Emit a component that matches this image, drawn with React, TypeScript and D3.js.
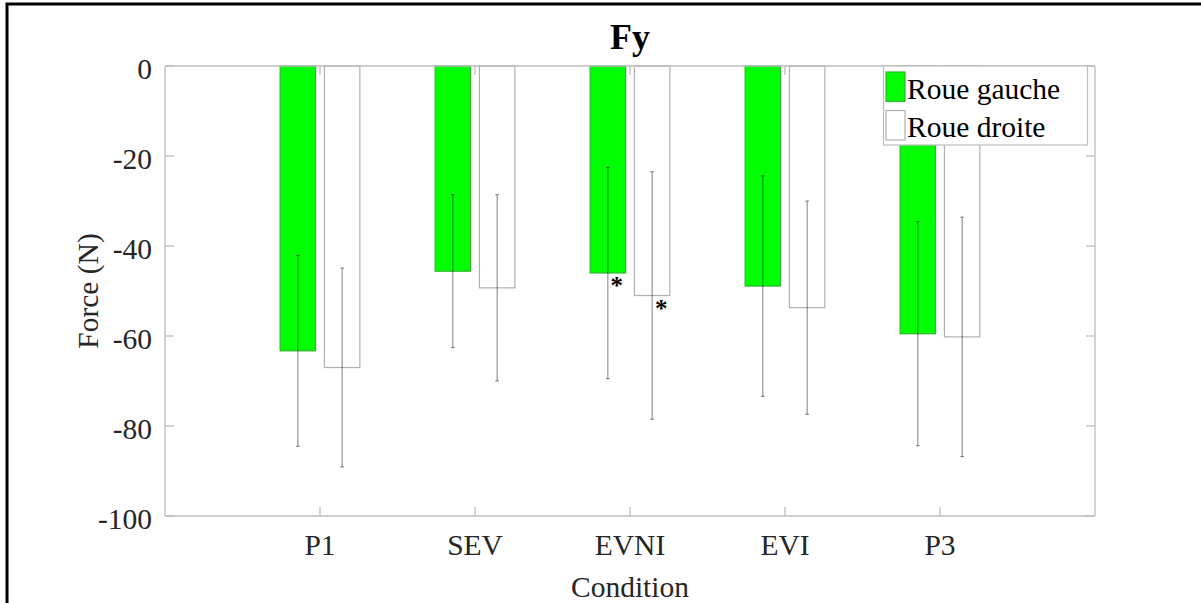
import React from "react";
import * as d3 from "d3";

const categories = ["P1", "SEV", "EVNI", "EVI", "P3"];
const seriesNames = ["Roue gauche", "Roue droite"];
const leftMeans = [-63.3, -45.6, -46.0, -48.9, -59.5];
const leftErr = [21.2, 17.0, 23.5, 24.5, 24.9];
const rightMeans = [-67.0, -49.3, -51.0, -53.7, -60.2];
const rightErr = [22.1, 20.7, 27.5, 23.7, 26.6];
const yTicks = [0, -20, -40, -60, -80, -100];
const significant = [
  { cat: "EVNI", series: 0 },
  { cat: "EVNI", series: 1 },
];

const W = 1201;
const H = 603;
const plot = { left: 165, right: 1095, top: 66, bottom: 516 };
const FONT = "'Liberation Serif', 'Times New Roman', serif";
const TXT = "#262626";
const AXIS = "#bdbdbd";
const FS = 29.5;

export default function App() {
  const x = d3.scaleLinear().domain([0, categories.length + 1]).range([plot.left, plot.right]);
  const y = d3.scaleLinear().domain([0, -100]).range([plot.top, plot.bottom]);
  const groupWidth = Math.min(0.8, 2 / (2 + 1.5));
  const barW = (0.8 * groupWidth) / 2;
  const offs = [-groupWidth / 4, groupWidth / 4];
  const means = [leftMeans, rightMeans];
  const errs = [leftErr, rightErr];
  const fills = ["#00ff00", "#ffffff"];
  const strokes = ["#2fb52f", "#b0b0b0"];
  const capHalf = 0.012;

  return (
    <svg width={W} height={H} style={{ position: "absolute", left: 0, top: 0, background: "#fff" }}>
      <rect x={7} y={4} width={1400} height={800} fill="#fff" stroke="#000" strokeWidth={3} />
      {/* bars */}
      {[0, 1].map((s) =>
        categories.map((c, i) => {
          const cx = i + 1 + offs[s];
          const x0 = x(cx - barW / 2);
          const x1 = x(cx + barW / 2);
          return (
            <rect
              key={`b${s}-${c}`}
              x={x0}
              y={y(0)}
              width={x1 - x0}
              height={y(means[s][i]) - y(0)}
              fill={fills[s]}
              stroke={strokes[s]}
              strokeWidth={1.2}
            />
          );
        })
      )}
      {/* error bars */}
      {[0, 1].map((s) =>
        categories.map((c, i) => {
          const cx = i + 1 + offs[s];
          const m = means[s][i];
          const e = errs[s][i];
          const col = "rgba(0,0,0,0.5)";
          return (
            <g key={`e${s}-${c}`} stroke={col} strokeWidth={1} fill="none">
              <line x1={x(cx)} x2={x(cx)} y1={y(m + e)} y2={y(m - e)} />
              <line x1={x(cx - capHalf)} x2={x(cx + capHalf)} y1={y(m + e)} y2={y(m + e)} />
              <line x1={x(cx - capHalf)} x2={x(cx + capHalf)} y1={y(m - e)} y2={y(m - e)} />
            </g>
          );
        })
      )}
      {/* significance asterisks */}
      {significant.map((a, k) => {
        const i = categories.indexOf(a.cat);
        const cx = i + 1 + offs[a.series];
        return (
          <text
            key={`s${k}`}
            x={x(cx) + 9}
            y={y(means[a.series][i]) + 21}
            fontFamily={FONT}
            fontWeight="bold"
            fontSize={25}
            textAnchor="middle"
            fill="#000"
          >
            *
          </text>
        );
      })}
      {/* axes box */}
      <g stroke={AXIS} strokeWidth={1.3} fill="none">
        <line x1={plot.left} x2={plot.right} y1={plot.bottom} y2={plot.bottom} />
        <line x1={plot.left} x2={plot.right} y1={plot.top} y2={plot.top} />
        <line x1={plot.left} x2={plot.left} y1={plot.top} y2={plot.bottom} />
        <line x1={plot.right} x2={plot.right} y1={plot.top} y2={plot.bottom} />
        {categories.map((c, i) => (
          <g key={`xt${c}`}>
            <line x1={x(i + 1)} x2={x(i + 1)} y1={plot.bottom} y2={plot.bottom - 9} />
            <line x1={x(i + 1)} x2={x(i + 1)} y1={plot.top} y2={plot.top + 9} />
          </g>
        ))}
        {yTicks.map((t) => (
          <g key={`yt${t}`}>
            <line x1={plot.left} x2={plot.left + 9} y1={y(t)} y2={y(t)} />
            <line x1={plot.right} x2={plot.right - 9} y1={y(t)} y2={y(t)} />
          </g>
        ))}
      </g>
      {/* tick labels */}
      {categories.map((c, i) => (
        <text key={`xl${c}`} x={x(i + 1)} y={555} fontFamily={FONT} fontSize={FS} fill={TXT} textAnchor="middle">
          {c}
        </text>
      ))}
      {yTicks.map((t) => (
        <text key={`yl${t}`} x={152} y={y(t) + 13} fontFamily={FONT} fontSize={FS} fill={TXT} textAnchor="end">
          {t}
        </text>
      ))}
      {/* axis titles */}
      <text x={630} y={597} fontFamily={FONT} fontSize={FS} fill={TXT} textAnchor="middle">
        Condition
      </text>
      <text
        transform={`translate(98, ${(plot.top + plot.bottom) / 2}) rotate(-90)`}
        fontFamily={FONT}
        fontSize={FS}
        fill={TXT}
        textAnchor="middle"
      >
        Force (N)
      </text>
      <text x={630} y={49} fontFamily={FONT} fontSize={36} fontWeight="bold" fill="#000" textAnchor="middle">
        Fy
      </text>
      {/* legend */}
      <g>
        <rect x={883.5} y={66} width={204} height={79} fill="#fff" stroke={AXIS} strokeWidth={1.2} />
        {seriesNames.map((n, k) => (
          <g key={`lg${k}`}>
            <rect
              x={886}
              y={72 + k * 38.5}
              width={19}
              height={29.5}
              fill={fills[k]}
              stroke={strokes[k]}
              strokeWidth={1.2}
            />
            <text x={907} y={98.5 + k * 38.5} fontFamily={FONT} fontSize={FS} fill="#000">
              {n}
            </text>
          </g>
        ))}
      </g>
    </svg>
  );
}
